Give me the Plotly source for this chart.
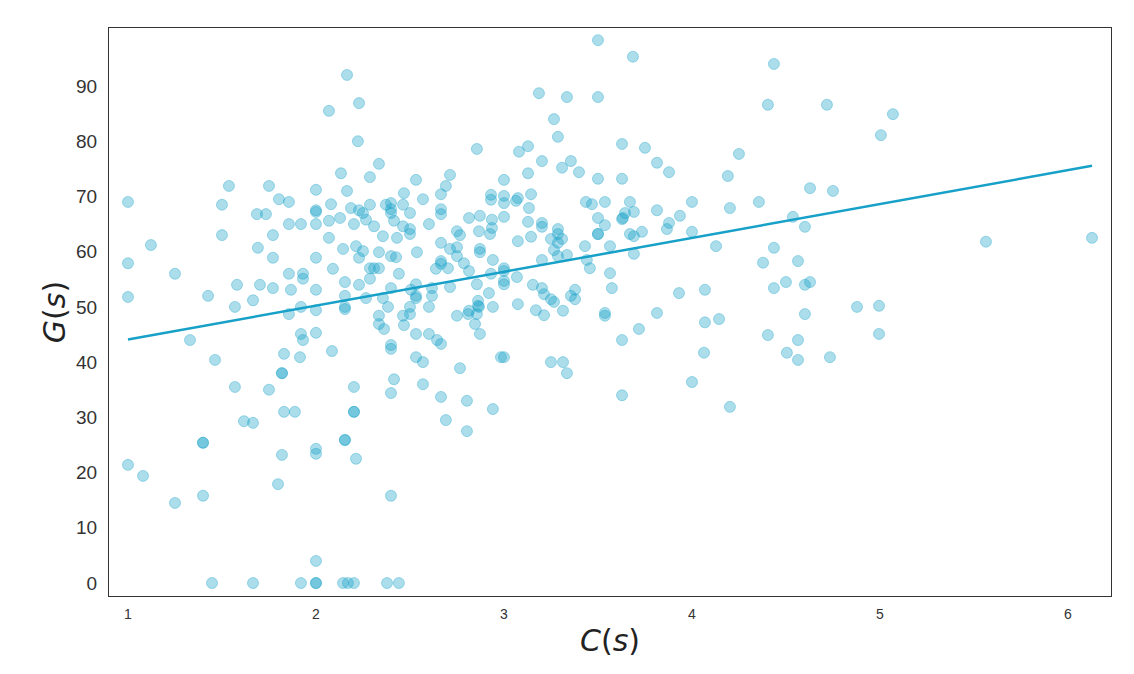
import numpy as np
import plotly.graph_objects as go

# C(s) values of every point
c_s = [
    2.165, 2.229, 2.069, 2.223, 2.856, 2.335, 2.133, 2.287, 2.532, 2.713,
    2.691, 1.537, 1.750, 2.0, 2.165, 2.468, 2.665, 3.0, 1.0, 1.5,
    1.803, 1.856, 2.080, 2.0, 2.0, 2.186, 2.229, 2.250, 2.287, 2.372,
    2.399, 2.399, 2.399, 2.463, 2.569, 2.665, 2.665, 2.931, 2.931, 1.686,
    1.734, 1.856, 1.920, 2.0, 2.069, 2.128, 2.202, 2.266, 2.309, 2.415,
    2.463, 2.5, 2.5, 2.601, 2.814, 2.872, 2.936, 2.936, 2.926, 1.5,
    1.771, 2.069, 2.356, 2.431, 2.5, 2.665, 2.75, 2.766, 2.867, 1.122,
    1.691, 2.144, 2.213, 2.250, 2.229, 2.335, 2.399, 2.426, 2.537, 2.713,
    2.75, 2.75, 2.872, 2.872, 2.941, 1.0, 1.771, 2.0, 1.250, 1.856,
    1.931, 1.931, 2.090, 2.287, 2.309, 2.335, 2.287, 2.441, 2.665, 2.665,
    2.638, 2.702, 2.787, 2.814, 2.856, 2.920, 3.0, 1.580, 1.702, 1.771,
    1.867, 2.0, 2.154, 2.229, 2.399, 2.532, 2.505, 2.532, 2.532, 2.617,
    2.617, 2.713, 1.0, 1.426, 1.665, 1.569, 1.920, 2.0, 2.154, 2.154,
    2.154, 2.266, 2.356, 2.383, 2.5, 2.601, 2.862, 2.867, 2.941, 1.856,
    2.335, 2.463, 2.5, 2.75, 2.809, 2.856, 2.814, 2.862, 2.846, 2.872,
    2.335, 2.362, 2.468, 1.330, 1.920, 1.931, 2.0, 2.085, 2.532, 2.601,
    2.644, 2.665, 2.984, 1.463, 1.830, 1.915, 2.399, 2.399, 2.532, 2.569,
    2.766, 1.819, 1.819, 1.569, 1.750, 2.202, 2.415, 2.399, 2.569, 2.665,
    2.803, 2.941, 1.830, 1.888, 2.202, 2.202, 1.617, 1.665, 2.691, 2.803,
    1.399, 1.399, 2.154, 2.154, 1.819, 2.0, 2.0, 2.213, 1.0, 1.080,
    1.798, 1.399, 1.250, 2.399, 2.0, 1.447, 1.665, 1.920, 2.0, 2.0,
    2.144, 2.170, 2.202, 2.378, 2.441,
    3.5, 3.686, 4.436, 3.186, 3.335, 3.5, 4.404, 4.718, 3.266, 3.287,
    5.005, 3.628, 3.750, 3.080, 3.128, 4.25, 3.202, 3.356, 3.309, 3.399,
    3.814, 3.878, 4.191, 3.128, 3.5, 3.628, 4.628, 4.75, 3.0, 3.0,
    3.064, 3.074, 3.144, 3.133, 3.436, 3.468, 3.537, 3.670, 3.691, 3.633,
    3.628, 3.644, 3.814, 3.936, 4.0, 4.202, 4.356, 3.0, 3.128, 3.202,
    3.202, 3.287, 3.287, 3.309, 3.250, 3.287, 3.074, 3.144, 3.266, 3.287,
    3.335, 3.431, 3.441, 3.457, 3.5, 3.5, 3.537, 3.564, 3.670, 3.691,
    3.734, 3.691, 3.878, 3.867, 4.0, 4.128, 4.537, 4.601, 4.436, 4.378,
    4.564, 3.0, 3.0, 3.0, 2.931, 3.069, 3.202, 3.154, 3.202, 3.213,
    3.250, 3.266, 3.314, 3.170, 3.213, 3.356, 3.378, 3.378, 3.564, 3.574,
    3.537, 3.537, 3.814, 3.931, 4.069, 4.5, 4.601, 4.628, 4.436, 4.601,
    4.878, 4.995, 3.074, 4.069, 4.144, 4.995, 3.0, 3.250, 3.314, 3.335,
    3.628, 3.718, 3.628, 4.0, 4.064, 4.202, 4.404, 4.564, 4.505, 4.564,
    4.734, 5.069, 5.564, 6.128, 3.5,
]

# G(s) values of every point
g_s = [
    92.0, 86.9, 85.5, 80.0, 78.6, 75.9, 74.2, 73.5, 73.0, 73.9,
    71.9, 71.9, 71.9, 71.2, 71.0, 70.6, 70.4, 73.0, 69.0, 68.5,
    69.5, 69.0, 68.6, 67.5, 67.2, 67.9, 67.5, 67.0, 68.5, 68.5,
    68.8, 67.7, 67.0, 68.5, 69.5, 67.7, 66.8, 70.3, 69.4, 66.8,
    66.8, 65.0, 65.0, 65.0, 65.6, 66.1, 65.0, 65.8, 64.6, 65.6,
    64.6, 67.0, 64.1, 65.0, 66.1, 66.5, 65.8, 64.3, 63.2, 63.0,
    63.0, 62.5, 62.8, 62.5, 63.2, 61.6, 63.7, 63.0, 63.7, 61.2,
    60.7, 60.5, 61.0, 60.1, 58.9, 59.9, 59.2, 59.0, 59.9, 60.5,
    60.8, 59.2, 60.5, 59.9, 58.5, 57.9, 58.9, 58.9, 56.0, 56.0,
    56.0, 55.1, 56.9, 57.0, 57.0, 57.0, 55.1, 56.0, 58.3, 57.8,
    56.9, 57.0, 57.9, 56.5, 54.1, 52.5, 57.0, 54.0, 54.0, 53.4,
    53.1, 53.1, 54.5, 54.0, 53.4, 54.1, 53.1, 52.0, 51.6, 53.4,
    52.0, 53.6, 51.8, 52.0, 51.2, 50.0, 50.0, 49.4, 52.0, 50.0,
    49.6, 51.6, 51.6, 50.0, 50.0, 50.0, 51.1, 50.0, 50.0, 48.7,
    48.4, 48.4, 48.7, 48.4, 48.7, 48.7, 49.3, 50.2, 46.9, 45.1,
    46.9, 46.0, 46.7, 44.0, 45.1, 44.0, 45.3, 42.0, 45.1, 45.1,
    44.0, 43.3, 40.9, 40.4, 41.5, 40.9, 43.1, 42.4, 40.9, 40.0,
    38.9, 38.0, 38.0, 35.5, 35.0, 35.5, 36.9, 34.4, 36.0, 33.7,
    33.0, 31.5, 31.0, 31.0, 31.0, 31.0, 29.3, 29.0, 29.5, 27.5,
    25.4, 25.4, 25.9, 25.9, 23.2, 24.3, 23.4, 22.5, 21.4, 19.4,
    17.9, 15.8, 14.5, 15.8, 4.0, 0.0, 0.0, 0.0, 0.0, 0.0,
    0.0, 0.0, 0.0, 0.0, 0.0,
    98.3, 95.3, 94.0, 88.7, 88.0, 88.0, 86.6, 86.6, 84.0, 80.8,
    81.1, 79.5, 78.8, 78.1, 79.1, 77.7, 76.4, 76.4, 75.2, 74.4,
    76.1, 74.4, 73.7, 74.2, 73.2, 73.2, 71.5, 71.0, 70.1, 68.8,
    69.2, 69.7, 70.4, 67.9, 69.0, 68.6, 69.0, 69.0, 67.2, 66.1,
    65.9, 67.0, 67.5, 66.5, 69.0, 67.9, 69.0, 66.3, 65.4, 65.2,
    64.5, 64.1, 63.2, 62.3, 62.3, 61.6, 61.9, 62.7, 60.3, 59.2,
    59.4, 61.0, 58.5, 57.0, 66.1, 63.2, 64.8, 61.0, 63.2, 62.8,
    63.6, 59.6, 65.2, 64.1, 63.6, 61.0, 66.3, 64.5, 60.7, 58.0,
    58.3, 56.5, 54.7, 54.1, 56.0, 55.4, 58.5, 54.0, 53.4, 52.3,
    51.4, 50.9, 49.3, 49.4, 48.5, 52.0, 53.1, 51.4, 56.1, 53.4,
    48.9, 48.4, 48.9, 52.5, 53.1, 54.5, 54.0, 54.5, 53.4, 48.7,
    50.0, 50.2, 50.5, 47.2, 47.8, 45.1, 40.9, 40.0, 40.0, 38.0,
    44.0, 46.0, 34.0, 36.4, 41.7, 31.9, 44.9, 44.0, 41.7, 40.4,
    40.9, 84.9, 61.8, 62.5, 63.2,
]

x = np.array(c_s)
y = np.array(g_s)

# least squares line, like seaborn's regplot without the band
slope, intercept = np.polyfit(x, y, 1)
fit_x = np.array([x.min(), x.max()])
fit_y = intercept + slope * fit_x

fig = go.Figure()
fig.add_trace(go.Scatter(
    x=x, y=y, mode="markers",
    marker=dict(size=11, color="rgba(23,162,200,0.36)",
                line=dict(color="rgba(23,162,200,0.36)", width=1)),
    showlegend=False, hoverinfo="skip"))
fig.add_trace(go.Scatter(
    x=fit_x, y=fit_y, mode="lines",
    line=dict(color="rgb(23,160,200)", width=2.5),
    showlegend=False, hoverinfo="skip"))

axis_common = dict(showgrid=False, zeroline=False, showline=True, mirror=True,
                   linecolor="#333", linewidth=1, ticks="", automargin=False)

# the page body has an 8px margin, so the plot box is shifted by it
fig.update_layout(
    width=1134, height=674,
    margin=dict(l=101, r=31, t=20, b=86),
    paper_bgcolor="white", plot_bgcolor="white",
    font=dict(family="Liberation Sans, Arial", color="#333"),
    xaxis=dict(range=[0.899, 6.229], tickvals=[1, 2, 3, 4, 5, 6],
               tickfont=dict(size=14, color="#333"), ticklabelstandoff=5,
               title=dict(text="<i>C</i>(<i>s</i>)", standoff=9,
                          font=dict(family="DejaVu Sans", size=30, color="#222")),
               **axis_common),
    yaxis=dict(range=[-2.35, 100.5], tickvals=list(range(0, 100, 10)),
               tickfont=dict(size=19, color="#333"), ticklabelstandoff=7,
               title=dict(text="<i>G</i>(<i>s</i>)", standoff=1,
                          font=dict(family="DejaVu Sans", size=30, color="#222")),
               **axis_common),
)

fig.write_html("out.html")
